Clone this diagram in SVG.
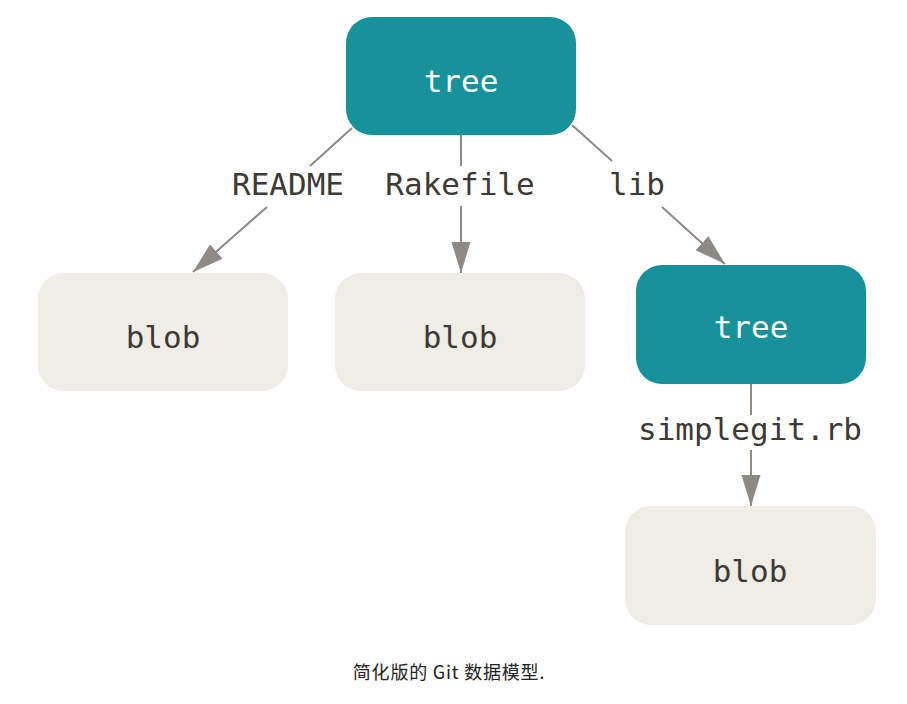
<svg xmlns="http://www.w3.org/2000/svg" width="907" height="704" viewBox="0 0 907 704">
<style>
.tree{fill:#17919a}
.blob{fill:#efede6}
.tt{font-family:"DejaVu Sans Mono",monospace;font-size:31px;fill:#ffffff;text-anchor:middle}
.bt{font-family:"DejaVu Sans Mono",monospace;font-size:31px;fill:#3d3935;text-anchor:middle}
.lbl{font-family:"DejaVu Sans Mono",monospace;font-size:31px;fill:#3d3935;text-anchor:middle}
.ln{stroke:#8e8983;stroke-width:2;fill:none}
.cap{font-family:"Noto Sans CJK SC","Noto Sans",sans-serif;font-size:18px;letter-spacing:0.8px;fill:#222;text-anchor:middle}
</style>
<defs>
<marker id="ah" markerUnits="userSpaceOnUse" markerWidth="32" markerHeight="20" refX="31" refY="9.5" orient="auto">
<path d="M0,0 L31,9.5 L0,19 z" fill="#8e8983"/>
</marker>
</defs>
<rect width="907" height="704" fill="#ffffff"/>
<g id="connectors">
<line class="ln" x1="352" y1="128" x2="310" y2="166"/>
<line class="ln" x1="267" y1="207" x2="193" y2="272" marker-end="url(#ah)"/>
<line class="ln" x1="461" y1="135" x2="461" y2="166"/>
<line class="ln" x1="461" y1="206" x2="461" y2="273" marker-end="url(#ah)"/>
<line class="ln" x1="572" y1="125" x2="612" y2="161"/>
<line class="ln" x1="662" y1="207" x2="725" y2="264" marker-end="url(#ah)"/>
<line class="ln" x1="751" y1="384" x2="751" y2="415"/>
<line class="ln" x1="751" y1="450" x2="751" y2="506" marker-end="url(#ah)"/>
<text class="lbl" x="288" y="195">README</text>
<text class="lbl" x="460" y="195">Rakefile</text>
<text class="lbl" x="637" y="195">lib</text>
<text class="lbl" x="750" y="440">simplegit.rb</text>
</g>
<g id="tree-root">
<rect class="tree" x="346" y="17" width="230" height="118" rx="26"/>
<text class="tt" x="461" y="92">tree</text>
</g>
<g id="blob-readme">
<rect class="blob" x="38" y="273" width="250" height="118" rx="26"/>
<text class="bt" x="163" y="348">blob</text>
</g>
<g id="blob-rakefile">
<rect class="blob" x="335" y="273" width="250" height="118" rx="26"/>
<text class="bt" x="460" y="348">blob</text>
</g>
<g id="tree-lib">
<rect class="tree" x="636" y="265" width="230" height="119" rx="26"/>
<text class="tt" x="751" y="338">tree</text>
</g>
<g id="blob-simplegit">
<rect class="blob" x="625" y="506" width="251" height="119" rx="26"/>
<text class="bt" x="750" y="582">blob</text>
</g>
<text class="cap" x="449" y="679">简化版的 Git 数据模型.</text>
</svg>
